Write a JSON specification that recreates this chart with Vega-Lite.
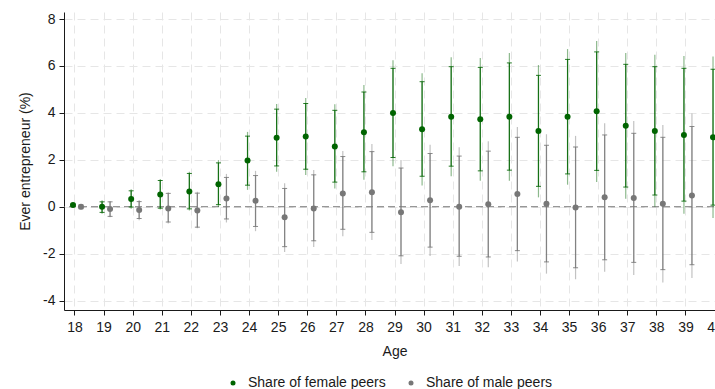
{
  "$schema": "https://vega.github.io/schema/vega-lite/v6.json",
  "width": 661,
  "height": 298,
  "autosize": {"type": "none"},
  "padding": {"left": 64, "top": 12, "right": 0, "bottom": 79},
  "background": "white",
  "config": {
    "font": "Liberation Sans",
    "view": {"stroke": null},
    "axis": {
      "domainColor": "#1a1a1a",
      "domainWidth": 1,
      "tickColor": "#1a1a1a",
      "tickSize": 5,
      "labelColor": "#1a1a1a",
      "labelFontSize": 14,
      "titleFontSize": 14,
      "titleFontWeight": "normal",
      "titleColor": "#1a1a1a",
      "gridColor": "#e6e6e6",
      "gridDash": [8, 5],
      "gridWidth": 1,
      "labelOverlap": false,
      "labelFlush": false
    }
  },
  "data": {
    "values": [
      {"age": 18, "group": "Share of female peers", "est": 0.07, "lo90": 0.03, "hi90": 0.11, "lo95": 0.02, "hi95": 0.12},
      {"age": 19, "group": "Share of female peers", "est": 0.00, "lo90": -0.24, "hi90": 0.21, "lo95": -0.30, "hi95": 0.28},
      {"age": 20, "group": "Share of female peers", "est": 0.33, "lo90": -0.01, "hi90": 0.68, "lo95": -0.09, "hi95": 0.75},
      {"age": 21, "group": "Share of female peers", "est": 0.52, "lo90": -0.06, "hi90": 1.12, "lo95": -0.12, "hi95": 1.18},
      {"age": 22, "group": "Share of female peers", "est": 0.65, "lo90": -0.09, "hi90": 1.42, "lo95": -0.16, "hi95": 1.49},
      {"age": 23, "group": "Share of female peers", "est": 0.96, "lo90": 0.09, "hi90": 1.87, "lo95": -0.01, "hi95": 1.99},
      {"age": 24, "group": "Share of female peers", "est": 1.97, "lo90": 0.92, "hi90": 3.01, "lo95": 0.72, "hi95": 3.19},
      {"age": 25, "group": "Share of female peers", "est": 2.94, "lo90": 1.74, "hi90": 4.16, "lo95": 1.49, "hi95": 4.38},
      {"age": 26, "group": "Share of female peers", "est": 2.99, "lo90": 1.60, "hi90": 4.40, "lo95": 1.35, "hi95": 4.64},
      {"age": 27, "group": "Share of female peers", "est": 2.57, "lo90": 1.05, "hi90": 4.11, "lo95": 0.78, "hi95": 4.37},
      {"age": 28, "group": "Share of female peers", "est": 3.18, "lo90": 1.49, "hi90": 4.89, "lo95": 1.15, "hi95": 5.19},
      {"age": 29, "group": "Share of female peers", "est": 4.00, "lo90": 2.10, "hi90": 5.90, "lo95": 1.73, "hi95": 6.24},
      {"age": 30, "group": "Share of female peers", "est": 3.30, "lo90": 1.30, "hi90": 5.33, "lo95": 0.91, "hi95": 5.69},
      {"age": 31, "group": "Share of female peers", "est": 3.84, "lo90": 1.73, "hi90": 5.97, "lo95": 1.30, "hi95": 6.37},
      {"age": 32, "group": "Share of female peers", "est": 3.73, "lo90": 1.53, "hi90": 5.94, "lo95": 1.11, "hi95": 6.34},
      {"age": 33, "group": "Share of female peers", "est": 3.84, "lo90": 1.56, "hi90": 6.13, "lo95": 1.11, "hi95": 6.55},
      {"age": 34, "group": "Share of female peers", "est": 3.23, "lo90": 0.87, "hi90": 5.60, "lo95": 0.40, "hi95": 6.04},
      {"age": 35, "group": "Share of female peers", "est": 3.84, "lo90": 1.40, "hi90": 6.28, "lo95": 0.94, "hi95": 6.72},
      {"age": 36, "group": "Share of female peers", "est": 4.07, "lo90": 1.55, "hi90": 6.60, "lo95": 1.05, "hi95": 7.06},
      {"age": 37, "group": "Share of female peers", "est": 3.45, "lo90": 0.84, "hi90": 6.07, "lo95": 0.34, "hi95": 6.55},
      {"age": 38, "group": "Share of female peers", "est": 3.23, "lo90": 0.50, "hi90": 5.97, "lo95": 0.00, "hi95": 6.48},
      {"age": 39, "group": "Share of female peers", "est": 3.06, "lo90": 0.24, "hi90": 5.90, "lo95": -0.30, "hi95": 6.43},
      {"age": 40, "group": "Share of female peers", "est": 2.96, "lo90": 0.07, "hi90": 5.86, "lo95": -0.48, "hi95": 6.40},
      {"age": 18, "group": "Share of male peers", "est": 0.00, "lo90": -0.08, "hi90": 0.08, "lo95": -0.10, "hi95": 0.10},
      {"age": 19, "group": "Share of male peers", "est": -0.10, "lo90": -0.41, "hi90": 0.21, "lo95": -0.45, "hi95": 0.25},
      {"age": 20, "group": "Share of male peers", "est": -0.14, "lo90": -0.50, "hi90": 0.22, "lo95": -0.57, "hi95": 0.29},
      {"age": 21, "group": "Share of male peers", "est": -0.07, "lo90": -0.65, "hi90": 0.57, "lo95": -0.71, "hi95": 0.62},
      {"age": 22, "group": "Share of male peers", "est": -0.16, "lo90": -0.87, "hi90": 0.58, "lo95": -0.92, "hi95": 0.64},
      {"age": 23, "group": "Share of male peers", "est": 0.35, "lo90": -0.52, "hi90": 1.25, "lo95": -0.67, "hi95": 1.40},
      {"age": 24, "group": "Share of male peers", "est": 0.26, "lo90": -0.84, "hi90": 1.33, "lo95": -1.04, "hi95": 1.53},
      {"age": 25, "group": "Share of male peers", "est": -0.45, "lo90": -1.70, "hi90": 0.78, "lo95": -1.93, "hi95": 1.00},
      {"age": 26, "group": "Share of male peers", "est": -0.07, "lo90": -1.45, "hi90": 1.36, "lo95": -1.72, "hi95": 1.57},
      {"age": 27, "group": "Share of male peers", "est": 0.57, "lo90": -0.96, "hi90": 2.14, "lo95": -1.26, "hi95": 2.38},
      {"age": 28, "group": "Share of male peers", "est": 0.62, "lo90": -1.09, "hi90": 2.35, "lo95": -1.42, "hi95": 2.67},
      {"age": 29, "group": "Share of male peers", "est": -0.23, "lo90": -2.09, "hi90": 1.65, "lo95": -2.44, "hi95": 1.99},
      {"age": 30, "group": "Share of male peers", "est": 0.28, "lo90": -1.72, "hi90": 2.27, "lo95": -2.10, "hi95": 2.64},
      {"age": 31, "group": "Share of male peers", "est": 0.00, "lo90": -2.11, "hi90": 2.16, "lo95": -2.52, "hi95": 2.54},
      {"age": 32, "group": "Share of male peers", "est": 0.11, "lo90": -2.14, "hi90": 2.37, "lo95": -2.58, "hi95": 2.79},
      {"age": 33, "group": "Share of male peers", "est": 0.54, "lo90": -1.87, "hi90": 2.96, "lo95": -2.33, "hi95": 3.40},
      {"age": 34, "group": "Share of male peers", "est": 0.13, "lo90": -2.35, "hi90": 2.62, "lo95": -2.85, "hi95": 3.09},
      {"age": 35, "group": "Share of male peers", "est": -0.03, "lo90": -2.60, "hi90": 2.55, "lo95": -3.09, "hi95": 3.02},
      {"age": 36, "group": "Share of male peers", "est": 0.40, "lo90": -2.26, "hi90": 3.06, "lo95": -2.77, "hi95": 3.56},
      {"age": 37, "group": "Share of male peers", "est": 0.37, "lo90": -2.37, "hi90": 3.13, "lo95": -2.91, "hi95": 3.66},
      {"age": 38, "group": "Share of male peers", "est": 0.13, "lo90": -2.68, "hi90": 2.96, "lo95": -3.23, "hi95": 3.48},
      {"age": 39, "group": "Share of male peers", "est": 0.48, "lo90": -2.47, "hi90": 3.42, "lo95": -3.04, "hi95": 3.97}
    ]
  },
  "encoding": {
    "x": {
      "field": "age",
      "type": "ordinal",
      "scale": {"type": "point", "padding": 0.36, "domain": [18, 19, 20, 21, 22, 23, 24, 25, 26, 27, 28, 29, 30, 31, 32, 33, 34, 35, 36, 37, 38, 39, 40]},
      "axis": {
        "title": "Age",
        "labelAngle": 0,
        "grid": true,
        "labelPadding": 5,
        "titlePadding": 10
      }
    },
    "xOffset": {
      "field": "group",
      "type": "nominal",
      "scale": {"type": "point", "domain": ["Share of female peers", "Share of male peers"], "range": [-1.5, 6.5], "padding": 0}
    },
    "color": {
      "field": "group",
      "type": "nominal",
      "scale": {"domain": ["Share of female peers", "Share of male peers"], "range": ["#006400", "#777777"]},
      "legend": {
        "title": null,
        "orient": "none",
        "legendX": 162,
        "legendY": 364,
        "direction": "horizontal",
        "symbolType": "circle",
        "symbolSize": 25,
        "symbolStrokeWidth": 0,
        "symbolOpacity": 1,
        "labelFontSize": 14,
        "labelColor": "#1a1a1a",
        "labelOffset": 8,
        "columnPadding": 18,
        "padding": 0
      }
    }
  },
  "layer": [
    {
      "data": {"values": [{}]},
      "mark": {"type": "rule", "color": "#767676", "strokeWidth": 1.2, "strokeDash": [7, 4]},
      "encoding": {
        "x": null,
        "xOffset": null,
        "color": null,
        "y": {"datum": 0, "type": "quantitative", "scale": {"domain": [-4.4, 8.3], "nice": false, "zero": false}, "axis": {"title": "Ever entrepreneur (%)", "values": [-4, -2, 0, 2, 4, 6, 8], "labelExpr": "'' + datum.value", "grid": true, "labelPadding": 4, "titlePadding": 10}}
      }
    },
    {
      "mark": {"type": "rule", "strokeWidth": 1.2, "opacity": 0.45},
      "encoding": {
        "y": {"field": "lo95", "type": "quantitative", "title": "Ever entrepreneur (%)"},
        "y2": {"field": "hi95"}
      }
    },
    {
      "mark": {"type": "rule", "strokeWidth": 1.2, "opacity": 0.85},
      "encoding": {
        "y": {"field": "lo90", "type": "quantitative", "title": "Ever entrepreneur (%)"},
        "y2": {"field": "hi90"}
      }
    },
    {
      "mark": {"type": "tick", "orient": "horizontal", "size": 5, "thickness": 1, "opacity": 0.85},
      "encoding": {
        "y": {"field": "lo90", "type": "quantitative", "title": "Ever entrepreneur (%)"}
      }
    },
    {
      "mark": {"type": "tick", "orient": "horizontal", "size": 5, "thickness": 1, "opacity": 0.85},
      "encoding": {
        "y": {"field": "hi90", "type": "quantitative", "title": "Ever entrepreneur (%)"}
      }
    },
    {
      "mark": {"type": "point", "filled": true, "size": 36, "opacity": 1},
      "encoding": {
        "y": {"field": "est", "type": "quantitative", "title": "Ever entrepreneur (%)"}
      }
    }
  ]
}
